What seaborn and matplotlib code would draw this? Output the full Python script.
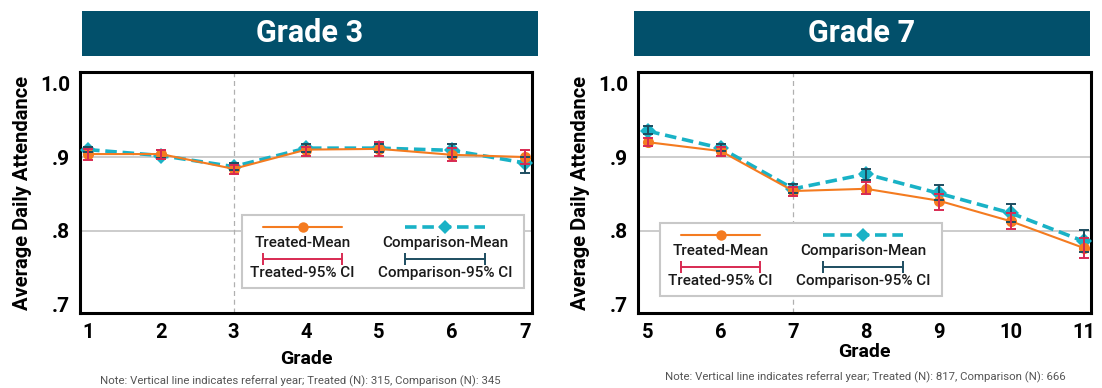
import numpy as np
import pandas as pd
import matplotlib
matplotlib.use("Agg")
import matplotlib.pyplot as plt
import seaborn as sns
from matplotlib.patches import Rectangle
from matplotlib.lines import Line2D

# ---- data -------------------------------------------------------------
g3_grades = [1, 2, 3, 4, 5, 6, 7]
g3_treated_mean = [0.904, 0.904, 0.884, 0.910, 0.911, 0.903, 0.900]
g3_treated_lo = [0.8965, 0.897, 0.877, 0.902, 0.902, 0.894, 0.891]
g3_treated_hi = [0.911, 0.9096, 0.889, 0.914, 0.920, 0.912, 0.910]
g3_comp_mean = [0.910, 0.902, 0.887, 0.912, 0.912, 0.909, 0.892]
g3_comp_lo = [0.9066, 0.898, 0.882, 0.9066, 0.9066, 0.900, 0.879]
g3_comp_hi = [0.914, 0.909, 0.892, 0.9175, 0.9175, 0.9175, 0.900]

g7_grades = [5, 6, 7, 8, 9, 10, 11]
g7_treated_mean = [0.920, 0.908, 0.854, 0.857, 0.841, 0.813, 0.777]
g7_treated_lo = [0.915, 0.901, 0.847, 0.850, 0.829, 0.802, 0.763]
g7_treated_hi = [0.926, 0.9135, 0.860, 0.866, 0.8505, 0.824, 0.791]
g7_comp_mean = [0.935, 0.912, 0.857, 0.877, 0.851, 0.824, 0.786]
g7_comp_lo = [0.9306, 0.908, 0.852, 0.869, 0.842, 0.812, 0.771]
g7_comp_hi = [0.9414, 0.917, 0.8635, 0.884, 0.862, 0.837, 0.801]

panel_titles = ["Grade 3", "Grade 7"]
referral_grades = [3, 7]
notes = [
    "Note: Vertical line indicates referral year; Treated (N): 315, Comparison (N): 345",
    "Note: Vertical line indicates referral year; Treated (N): 817, Comparison (N): 666",
]
ytick_vals = [0.7, 0.8, 0.9, 1.0]
ytick_labels = [".7", ".8", ".9", "1.0"]

# ---- style ------------------------------------------------------------
ORANGE = "#f47b20"
CRIMSON = "#d82a52"
CYAN = "#19b2c6"
NAVY = "#1d4d60"
BANNER = "#02506b"

sns.set_theme(style="white")
plt.rcParams["font.family"] = ["Roboto", "DejaVu Sans"]

W, H = 1102, 388
fig = plt.figure(figsize=(W / 100, H / 100), dpi=100)


def fx(px):
    return px / W


def fy(py):
    return 1 - py / H


def make_axes(left, right, top, bottom):
    return fig.add_axes([fx(left), fy(bottom), fx(right - left), (bottom - top) / H])


ax_l = make_axes(80, 532, 72, 313)
ax_r = make_axes(638, 1091, 72, 313)


def draw_panel(ax, grades, t_mean, t_lo, t_hi, c_mean, c_lo, c_hi, ref, xlim, labelpad):
    df = pd.DataFrame({"grade": grades, "t": t_mean, "c": c_mean})
    sns.lineplot(data=df, x="grade", y="c", color=CYAN, linewidth=2.6,
                 marker="D", markersize=8, markeredgewidth=0, ax=ax, zorder=3)
    ax.lines[-1].set_dashes([3.2, 1.6])
    sns.lineplot(data=df, x="grade", y="t", color=ORANGE, linewidth=1.5,
                 marker="o", markersize=8, markeredgewidth=0, ax=ax, zorder=4)
    t_mean_a = np.array(t_mean)
    c_mean_a = np.array(c_mean)
    ax.errorbar(grades, c_mean_a,
                yerr=[c_mean_a - np.array(c_lo), np.array(c_hi) - c_mean_a],
                fmt="none", ecolor=NAVY, elinewidth=1.4, capsize=3.5, capthick=1.4, zorder=5)
    ax.errorbar(grades, t_mean_a,
                yerr=[t_mean_a - np.array(t_lo), np.array(t_hi) - t_mean_a],
                fmt="none", ecolor=CRIMSON, elinewidth=1.4, capsize=3.5, capthick=1.4, zorder=6)
    ax.axvline(ref, color="#b0b0b0", linewidth=0.9, dashes=(4, 3), zorder=1)
    for yv in (0.8, 0.9):
        ax.axhline(yv, color="#c8c8c8", linewidth=1.3, zorder=0.5)
    ax.set_xlim(*xlim)
    ax.set_ylim(0.689, 1.015)
    ax.set_xticks(grades)
    ax.set_xticklabels([str(g) for g in grades], fontsize=14.5, fontweight="bold")
    ax.set_yticks(ytick_vals)
    ax.set_yticklabels(ytick_labels, fontsize=15, fontweight="bold")
    ax.tick_params(axis="both", length=0, pad=7, colors="black")
    ax.set_xlabel("Grade", fontsize=14, fontweight="bold", labelpad=labelpad, color="black")
    ax.set_ylabel("Average Daily Attendance", fontsize=14.5, fontweight="bold",
                  labelpad=6, color="black")
    for sp in ax.spines.values():
        sp.set_visible(True)
        sp.set_color("black")
        sp.set_linewidth(2.2)
    ax.grid(False)


draw_panel(ax_l, g3_grades, g3_treated_mean, g3_treated_lo, g3_treated_hi,
           g3_comp_mean, g3_comp_lo, g3_comp_hi, referral_grades[0], (0.89, 7.1), 6)
draw_panel(ax_r, g7_grades, g7_treated_mean, g7_treated_lo, g7_treated_hi,
           g7_comp_mean, g7_comp_lo, g7_comp_hi, referral_grades[1], (4.86, 11.1), 1)


def draw_banner(left, right, top, bottom, text):
    fig.add_artist(Rectangle((fx(left), fy(bottom)), fx(right - left), (bottom - top) / H,
                             transform=fig.transFigure, facecolor=BANNER, edgecolor="none"))
    fig.text(fx((left + right) / 2), fy((top + bottom) / 2), text, color="white",
             fontsize=22, fontweight="bold", ha="center", va="center")


draw_banner(82, 538, 11, 56, panel_titles[0])
draw_banner(634, 1090, 11, 56, panel_titles[1])


def draw_key(left, top):
    """Two-column key with each handle stacked above its label."""
    fig.add_artist(Rectangle((fx(left), fy(top + 73)), fx(282), 73 / H,
                             transform=fig.transFigure, facecolor="white",
                             edgecolor="#c8c8c8", linewidth=1.5, zorder=5))
    cols = [(left + 21, left + 100), (left + 163, left + 243)]
    y1, t1, y2, t2 = top + 12, top + 28, top + 44, top + 58
    specs = [
        (cols[0], ORANGE, "-", "o", "Treated-Mean", CRIMSON, "Treated-95% CI"),
        (cols[1], CYAN, "--", "D", "Comparison-Mean", NAVY, "Comparison-95% CI"),
    ]
    for (x0, x1), lc, ls, mk, lab1, ec, lab2 in specs:
        xc = (x0 + x1) / 2
        ln = Line2D([fx(x0), fx(xc), fx(x1)], [fy(y1)] * 3, transform=fig.transFigure,
                    color=lc, linewidth=1.5 if ls == "-" else 2.6, marker=mk,
                    markersize=7.5, markeredgewidth=0, markevery=[1], zorder=6)
        if ls == "--":
            ln.set_dashes([3.2, 1.6])
        fig.add_artist(ln)
        fig.text(fx(xc), fy(t1), lab1, fontsize=11, fontweight="medium",
                 color="#1a1a1a", ha="center", va="center", zorder=6)
        fig.add_artist(Line2D([fx(x0), fx(x1)], [fy(y2)] * 2, transform=fig.transFigure,
                              color=ec, linewidth=1.4, marker="|", markersize=8,
                              markeredgewidth=1.4, zorder=6))
        fig.text(fx(xc), fy(t2), lab2, fontsize=11, fontweight="medium",
                 color="#1a1a1a", ha="center", va="center", zorder=6)


draw_key(242, 215)
draw_key(660, 223)

note_font = ["Liberation Sans Narrow", "Roboto", "DejaVu Sans"]
fig.text(fx(300), fy(381), notes[0], fontsize=8.2, color="#555555",
         ha="center", va="center", family=note_font)
fig.text(fx(865), fy(377), notes[1], fontsize=8.2, color="#555555",
         ha="center", va="center", family=note_font)

fig.savefig("out.png", dpi=100)
